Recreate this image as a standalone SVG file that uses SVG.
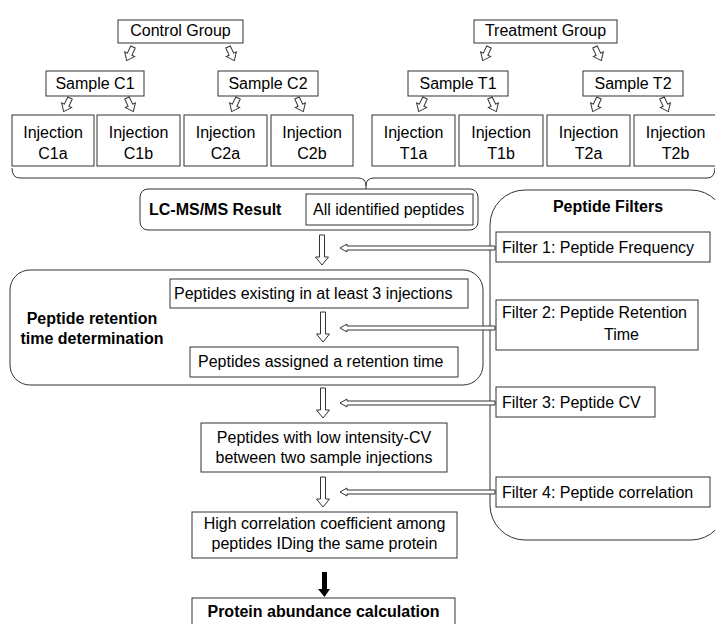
<svg xmlns="http://www.w3.org/2000/svg" width="715" height="624" viewBox="0 0 715 624">
<defs>
<style>
.b{fill:#fff;stroke:#333;stroke-width:1}
.t{font-family:"Liberation Sans",Arial,sans-serif;font-size:16px;fill:#000}
.c{text-anchor:middle}
.bold{font-weight:bold}
.ha{fill:#fff;stroke:#333;stroke-width:1}
.ln{fill:none;stroke:#333;stroke-width:1}
</style>
<path id="sa" d="M-2.5,0 L2.5,0 L2.5,8 L5.5,8 L0,15 L-5.5,8 L-2.5,8 Z"/>
<path id="da" d="M-2.5,0 L2.5,0 L2.5,22 L6.5,22 L0,30 L-6.5,22 L-2.5,22 Z"/>
</defs>
<rect width="715" height="624" fill="#fff"/>

<g id="control-group"><rect class="b" x="118" y="20" width="125" height="23"/><text class="t c" x="180.5" y="36">Control Group</text></g>
<g id="treatment-group"><rect class="b" x="474" y="20" width="143" height="23"/><text class="t c" x="545.5" y="36">Treatment Group</text></g>

<g id="sample-c1"><rect class="b" x="46" y="71" width="98" height="25"/><text class="t c" x="95" y="88.5">Sample C1</text></g>
<g id="sample-c2"><rect class="b" x="218" y="71" width="100" height="25"/><text class="t c" x="268" y="88.5">Sample C2</text></g>
<g id="sample-t1"><rect class="b" x="408" y="71" width="100" height="25"/><text class="t c" x="458" y="88.5">Sample T1</text></g>
<g id="sample-t2"><rect class="b" x="583" y="71" width="100" height="25"/><text class="t c" x="633" y="88.5">Sample T2</text></g>

<g id="inj-c1a"><rect class="b" x="12" y="115" width="82" height="51"/><text class="t c" x="53" y="138">Injection</text><text class="t c" x="53" y="159">C1a</text></g>
<g id="inj-c1b"><rect class="b" x="97" y="115" width="83" height="51"/><text class="t c" x="138.5" y="138">Injection</text><text class="t c" x="138.5" y="159">C1b</text></g>
<g id="inj-c2a"><rect class="b" x="184" y="115" width="83" height="51"/><text class="t c" x="225.5" y="138">Injection</text><text class="t c" x="225.5" y="159">C2a</text></g>
<g id="inj-c2b"><rect class="b" x="271" y="115" width="82" height="51"/><text class="t c" x="312" y="138">Injection</text><text class="t c" x="312" y="159">C2b</text></g>
<g id="inj-t1a"><rect class="b" x="372" y="115" width="83" height="51"/><text class="t c" x="413.5" y="138">Injection</text><text class="t c" x="413.5" y="159">T1a</text></g>
<g id="inj-t1b"><rect class="b" x="459" y="115" width="84" height="51"/><text class="t c" x="501" y="138">Injection</text><text class="t c" x="501" y="159">T1b</text></g>
<g id="inj-t2a"><rect class="b" x="547" y="115" width="83" height="51"/><text class="t c" x="588.5" y="138">Injection</text><text class="t c" x="588.5" y="159">T2a</text></g>
<g id="inj-t2b"><rect class="b" x="634" y="115" width="83" height="51"/><text class="t c" x="675.5" y="138">Injection</text><text class="t c" x="675.5" y="159">T2b</text></g>

<g id="lcms"><rect class="b" x="140" y="189" width="338" height="41" rx="8"/><text class="t bold" x="149" y="215">LC-MS/MS Result</text>
<rect class="b" x="306" y="194" width="167" height="31"/><text class="t" x="313" y="215">All identified peptides</text></g>

<g id="filters"><rect class="b" x="490" y="190" width="236" height="350" rx="35" stroke="#111"/><text class="t c bold" x="608" y="212">Peptide Filters</text>
<rect class="b" x="496" y="232" width="214" height="30"/><text class="t" x="502" y="253">Filter 1: Peptide Frequency</text>
<rect class="b" x="496" y="300" width="202" height="50"/><text class="t" x="502" y="318">Filter 2: Peptide Retention</text><text class="t" x="604" y="340">Time</text>
<rect class="b" x="496" y="387" width="159" height="30"/><text class="t" x="502" y="408">Filter 3: Peptide CV</text>
<rect class="b" x="496" y="477" width="214" height="30"/><text class="t" x="502" y="498">Filter 4: Peptide correlation</text></g>

<g id="retention"><rect class="b" x="10" y="270" width="473" height="115" rx="20"/>
<text class="t c bold" x="92" y="324">Peptide retention</text><text class="t c bold" x="92" y="344">time determination</text>
<rect class="b" x="170" y="279" width="298" height="29"/><text class="t" x="174" y="299">Peptides existing in at least 3 injections</text>
<rect class="b" x="190" y="347" width="268" height="30"/><text class="t" x="198" y="367">Peptides assigned a retention time</text></g>

<g id="low-cv"><rect class="b" x="201" y="423" width="246" height="49"/><text class="t c" x="324" y="443">Peptides with low intensity-CV</text><text class="t c" x="324" y="463">between two sample injections</text></g>
<g id="high-corr"><rect class="b" x="192" y="512" width="265" height="46"/><text class="t c" x="324.5" y="529">High correlation coefficient among</text><text class="t c" x="324.5" y="549">peptides IDing the same protein</text></g>
<g id="abundance"><rect class="b" x="192" y="598" width="263" height="30"/><text class="t c bold" x="323.5" y="617">Protein abundance calculation</text></g>

<g id="connectors">
<g class="ha">
<use href="#sa" transform="translate(133,47) rotate(25)"/>
<use href="#sa" transform="translate(228,47) rotate(-25)"/>
<use href="#sa" transform="translate(70,98) rotate(25)"/>
<use href="#sa" transform="translate(127,98) rotate(-25)"/>
<use href="#sa" transform="translate(238,98) rotate(25)"/>
<use href="#sa" transform="translate(297,98) rotate(-25)"/>
<use href="#sa" transform="translate(489,47) rotate(25)"/>
<use href="#sa" transform="translate(595,47) rotate(-25)"/>
<use href="#sa" transform="translate(425,98) rotate(25)"/>
<use href="#sa" transform="translate(490,98) rotate(-25)"/>
<use href="#sa" transform="translate(599,98) rotate(25)"/>
<use href="#sa" transform="translate(662,98) rotate(-25)"/>
<use href="#da" transform="translate(322,235)"/>
<use href="#da" transform="translate(323,312)"/>
<use href="#da" transform="translate(323,388)"/>
<use href="#da" transform="translate(323,477)"/>
<path d="M495,246 L347,246 L347,244 L340,248 L347,252 L347,250 L495,250 Z"/>
<path d="M495,326 L347,326 L347,324 L340,328 L347,332 L347,330 L495,330 Z"/>
<path d="M495,401 L347,401 L347,399 L340,403 L347,407 L347,405 L495,405 Z"/>
<path d="M495,490 L347,490 L347,488 L340,492 L347,496 L347,494 L495,494 Z"/>
</g>
<path class="ln" d="M12,168 Q12,178 20,178 L358,178 Q366,178 366,186 Q366,178 374,178 L707,178 Q715,178 715,168"/>
<line class="ln" x1="366" y1="186" x2="366" y2="189"/>
<path d="M322,572 L327,572 L327,589 L330,589 L324.5,597 L318,589 L322,589 Z" fill="#000"/>
</g>
</svg>
